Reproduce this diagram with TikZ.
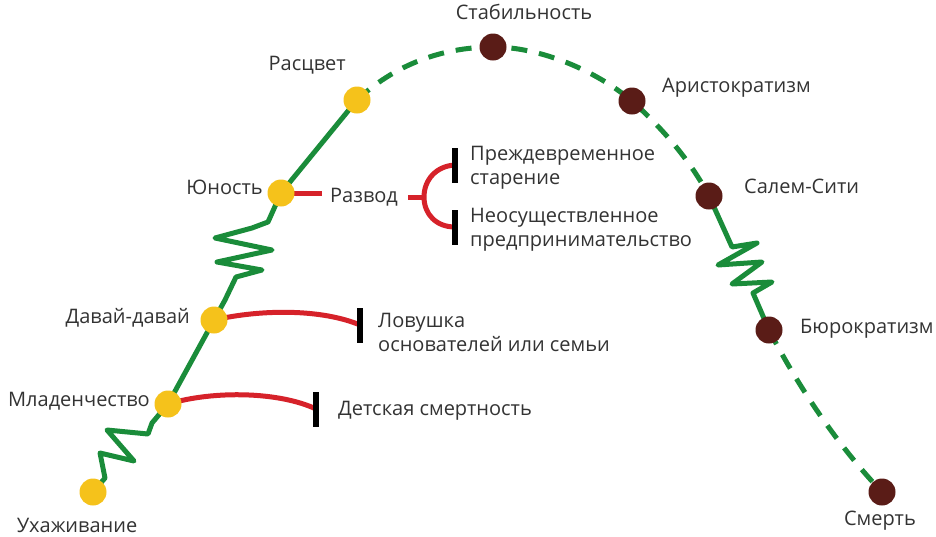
\documentclass[tikz,border=0pt]{standalone}
\usepackage{fontspec}
\setmainfont{Open Sans}
\usetikzlibrary{backgrounds}
\definecolor{lgreen}{HTML}{1A8C3A}
\definecolor{lyellow}{HTML}{F5C21B}
\definecolor{dbrown}{HTML}{5A1C17}
\definecolor{lred}{HTML}{D6222A}
\definecolor{ltext}{HTML}{333333}
\begin{document}
\begin{tikzpicture}[x=1pt,y=-1pt,
  gline/.style={draw=lgreen, line width=5pt, line join=round},
  gdash/.style={gline, dash pattern=on 16pt off 12pt},
  ydot/.style={circle, fill=lyellow, minimum size=27pt, inner sep=0pt},
  bdot/.style={circle, fill=dbrown, minimum size=27pt, inner sep=0pt},
  redl/.style={draw=lred, line width=5pt},
  stopbar/.style={rectangle, fill=black, minimum width=6pt, minimum height=35pt, inner sep=0pt},
  lbl/.style={font=\fontsize{20}{24}\selectfont, text=ltext, inner sep=0pt, align=left}]
\useasboundingbox (0,0) rectangle (936,536);

% dots
\node[ydot] (U) at (93,492) {};
\node[ydot] (M) at (168,404) {};
\node[ydot] (D) at (214,320) {};
\node[ydot] (Y) at (281,193) {};
\node[ydot] (R) at (357,100) {};
\node[bdot] (S) at (493,47) {};
\node[bdot] (A) at (632,101) {};
\node[bdot] (C) at (709,196) {};
\node[bdot] (B) at (769,330) {};
\node[bdot] (E) at (882,492) {};

% stop bars
\node[stopbar] (b1) at (455,165) {};
\node[stopbar] (b2) at (455,227) {};
\node[stopbar] (b3) at (360,325) {};
\node[stopbar] (b4) at (316,409) {};

% labels
\node[lbl, anchor=center] (lU) at (77,525) {Ухаживание};
\node[lbl, anchor=east] (lM) at (150,401) {Младенчество};
\node[lbl, anchor=east] (lD) at (190,318) {Давай-давай};
\node[lbl, anchor=east] (lY) at (263,187) {Юность};
\node[lbl, anchor=east] (lR) at (346,65) {Расцвет};
\node[lbl, anchor=center] (lS) at (524,12) {Стабильность};
\node[lbl, anchor=west] (lA) at (662,88) {Аристократизм};
\node[lbl, anchor=west] (lC) at (744,186) {Салем-Сити};
\node[lbl, anchor=west] (lB) at (800,329) {Бюрократизм};
\node[lbl, anchor=center] (lE) at (880,521) {Смерть};
\node[lbl, anchor=west] (razvod) at (330,197) {Развод};
\node[lbl, anchor=west] (p1) at (470,168) {Преждевременное\\старение};
\node[lbl, anchor=west] (p2) at (470,230) {Неосуществленное\\предпринимательство};
\node[lbl, anchor=west] (p3) at (378,332) {Ловушка\\основателей или семьи};
\node[lbl, anchor=west] (p4) at (338,411) {Детская смертность};

\coordinate (rs) at (322,193);
\coordinate (fork) at (424,197);
\coordinate (fs) at (408,197);

\begin{pgfonlayer}{background}
% green path
\draw[gline] (U.center) -- (105,478) -- (100,453) -- (134,461) -- (107,430) -- (148,434) -- (152,423) -- (M.center);
\draw[gline] (M.center) -- (D.center);
\draw[gline] (D.center) -- (225,300) -- (236,277) -- (262,270) -- (217,262) -- (272,250) -- (215,238) -- (252,228) -- (268,222) -- (Y.center);
\draw[gline] (Y.center) -- (R.center);
\draw[gdash] (R.center) .. controls (400,60) and (450,47) .. (S.center)
  .. controls (540,47) and (595,70) .. (A.center)
  .. controls (662,128) and (690,160) .. (C.center);
\draw[gline] (C.center) -- (732,247) -- (757,243) -- (718,265) -- (762,262) -- (732,284) -- (772,282) -- (753,293) -- (B.center);
\draw[gdash] (B.center) .. controls (800,390) and (840,448) .. (E.center);
% red links
\draw[redl] (Y.center) -- (rs);
\draw[redl] (fs) -- (fork);
\draw[redl] (b1.center) .. controls (436,166) and (424,180) .. (fork)
  .. controls (424,214) and (436,227) .. (b2.center);
\draw[redl] (D.center) .. controls (262,309) and (322,309) .. (b3.center);
\draw[redl] (M.center) .. controls (215,390) and (280,392) .. (b4.center);
\end{pgfonlayer}
\end{tikzpicture}
\end{document}
